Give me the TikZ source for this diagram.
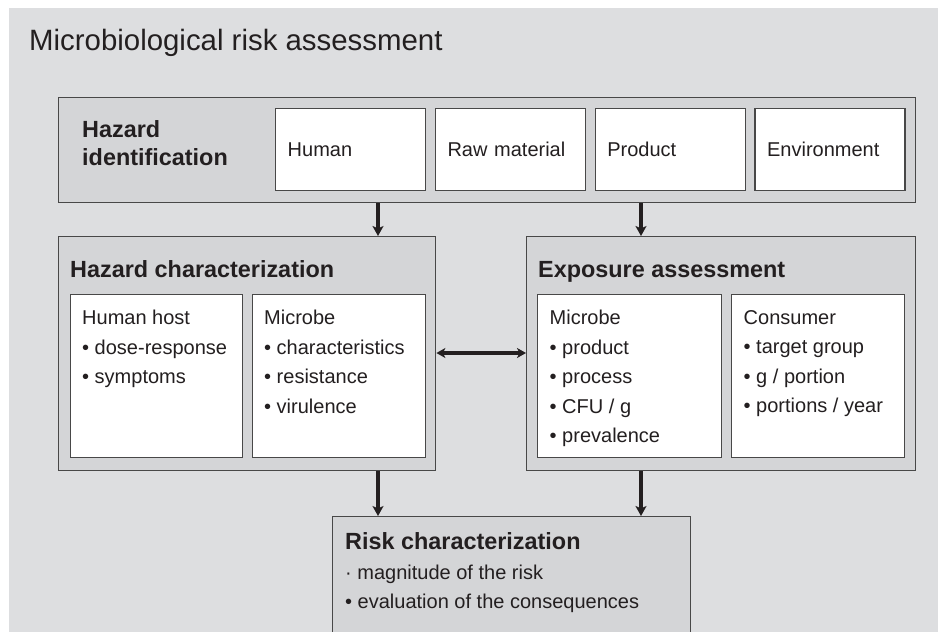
\documentclass[tikz,border=0pt]{standalone}
\usepackage{fontspec}
\setmainfont{Liberation Sans}
\usetikzlibrary{arrows.meta,positioning}

\definecolor{bggray}{RGB}{221,222,224}
\definecolor{boxgray}{RGB}{212,213,215}
\definecolor{edge}{RGB}{72,72,72}
\definecolor{ink}{RGB}{35,31,32}

\begin{document}
\begin{tikzpicture}[
  x=1pt,
  y=-1pt,
  every node/.style={text=ink,inner sep=0pt},
  line/.style={draw=edge,line width=1.4pt},
  stage/.style={line,fill=boxgray,anchor=north west},
  item/.style={line,fill=white,anchor=north west},
  factor/.style={item,minimum height=82pt,text width=126pt,inner xsep=12pt,align=left,
    font=\fontsize{20}{24}\selectfont},
  panel/.style={item,minimum height=163pt},
  stagetitle/.style={align=left,font=\bfseries\fontsize{23.4}{28}\selectfont},
  listtext/.style={align=left,font=\fontsize{20}{29.5}\selectfont},
  arrow/.style={draw=ink,line width=3.4pt,-{Stealth[length=10pt,width=11pt,inset=2.5pt]}},
  twoway/.style={draw=ink,line width=3.4pt,
    {Stealth[length=9pt,width=10pt,inset=2.5pt]}-{Stealth[length=9pt,width=10pt,inset=2.5pt]}}
]

\useasboundingbox (0,0) rectangle (938,632);
\clip (0,0) rectangle (938,632);
\fill[bggray] (9,8) rectangle (938,632);

% Title
\node[anchor=base west,font=\fontsize{29.4}{34}\selectfont] (title) at (29,50)
  {Microbiological risk assessment};

% Hazard identification
\node[stage,minimum width=857pt,minimum height=105pt] (hazid) at (58,97) {};
\node[stagetitle,anchor=north west] (hazidtitle) at (82,120) {Hazard\\identification};
\node[factor] (human) at (275,108) {Human};
\node[factor,right=8.4pt of human] (raw) {Raw material};
\node[factor,right=8.4pt of raw] (product) {Product};
\node[factor,right=8.4pt of product] (environment) {Environment};

% Hazard characterization
\node[stage,minimum width=377pt,minimum height=234pt] (hazchar) at (58,236) {};
\node[stagetitle,anchor=base west] (hazchartitle) at (70,277) {Hazard characterization};
\node[panel,minimum width=172pt] (host) at (70,294) {};
\node[panel,minimum width=173pt] (hmicrobe) at (252,294) {};
\node[listtext,below right=16pt and 12pt of host.north west] (hostlist)
  {Human host\\• dose-response\\• symptoms};
\node[listtext,below right=16pt and 12pt of hmicrobe.north west] (hmicrobelist)
  {Microbe\\• characteristics\\• resistance\\• virulence};

% Exposure assessment
\node[stage,minimum width=389pt,minimum height=234pt] (expo) at (526,236) {};
\node[stagetitle,anchor=base west] (expotitle) at (538,277) {Exposure assessment};
\node[panel,minimum width=184pt] (emicrobe) at (537,294) {};
\node[panel,minimum width=173pt] (consumer) at (731,294) {};
\node[listtext,below right=16pt and 12.5pt of emicrobe.north west] (emicrobelist)
  {Microbe\\• product\\• process\\• CFU / g\\• prevalence};
\node[listtext,below right=16pt and 12.5pt of consumer.north west] (consumerlist)
  {Consumer\\• target group\\• g / portion\\• portions / year};

% Risk characterization
\node[stage,minimum width=358pt,minimum height=140pt] (risk) at (332,516) {};
\node[stagetitle,anchor=base west] (risktitle) at (345,549) {Risk characterization};
\node[listtext,anchor=north west] (risklist) at (345,564.5)
  {· magnitude of the risk\\• evaluation of the consequences};

% Connectors
\coordinate (leftcol) at (378,0);
\coordinate (rightcol) at (641,0);
\coordinate (midrow) at (0,353);
\draw[arrow] (hazid.south -| leftcol) -- (hazchar.north -| leftcol);
\draw[arrow] (hazid.south -| rightcol) -- (expo.north -| rightcol);
\draw[arrow] (hazchar.south -| leftcol) -- (risk.north -| leftcol);
\draw[arrow] (expo.south -| rightcol) -- (risk.north -| rightcol);
\draw[twoway] (hazchar.east |- midrow) -- (expo.west |- midrow);

\end{tikzpicture}
\end{document}
